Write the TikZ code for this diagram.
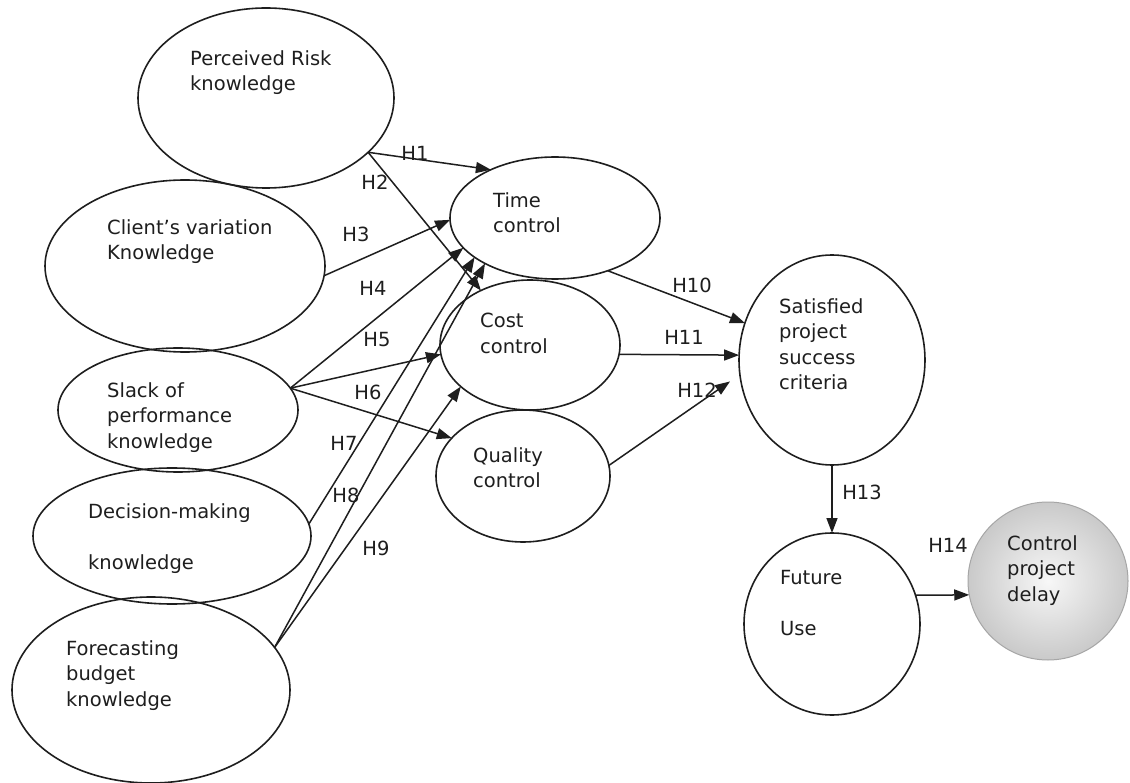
\documentclass[tikz,border=0pt]{standalone}
\usepackage{fontspec}
\setmainfont{DejaVu Sans}
\usetikzlibrary{shapes.geometric,arrows.meta}
\definecolor{ink}{HTML}{1E1E1E}
\begin{document}
\begin{tikzpicture}[x=1pt,y=-1pt,
  construct/.style={ellipse,draw=ink,line width=1.6pt,inner sep=0pt,outer sep=0pt},
  caption/.style={anchor=north west,inner sep=0pt,align=left,text=ink,
    font=\fontsize{19.5}{25.5}\selectfont},
  hyp/.style={inner sep=0pt,text=ink,font=\fontsize{19.5}{22}\selectfont},
  link/.style={draw=ink,line width=1.5pt,-{Triangle[length=15pt,width=11pt]}}]
\useasboundingbox (0,0) rectangle (1130,783);
\fill[white] (0,0) rectangle (1130,783);

% knowledge constructs (left column)
\node[construct,minimum width=256pt,minimum height=180pt] (risk) at (266,98) {};
\node[construct,minimum width=280pt,minimum height=172pt] (client) at (185,266) {};
\node[construct,minimum width=240pt,minimum height=124pt] (slack) at (178,410) {};
\node[construct,minimum width=278pt,minimum height=136pt] (decision) at (172,536) {};
\node[construct,minimum width=278pt,minimum height=186pt] (forecast) at (151,690) {};

% control constructs (middle column)
\node[construct,minimum width=210pt,minimum height=122pt] (time) at (555,218) {};
\node[construct,minimum width=180pt,minimum height=130pt] (cost) at (530,345) {};
\node[construct,minimum width=174pt,minimum height=132pt] (quality) at (523,476) {};

% outcomes
\node[construct,minimum width=186pt,minimum height=210pt] (satisfied) at (832,360) {};
\node[construct,minimum width=176pt,minimum height=182pt] (future) at (832,624) {};
\node[construct,draw=gray!70,line width=1pt,inner color=gray!6,outer color=gray!42,
      minimum width=160pt,minimum height=158pt] (delay) at (1048,581) {};

% construct captions
\node[caption] (tRisk) at (190,50) {Perceived Risk\\knowledge};
\node[caption] (tClient) at (107,219) {Client’s variation\\Knowledge};
\node[caption] (tSlack) at (107,382) {Slack of\\performance\\knowledge};
\node[caption] (tDecision) at (88,503) {Decision-making\\[25.5pt]knowledge};
\node[caption] (tForecast) at (66,640) {Forecasting\\budget\\knowledge};
\node[caption] (tTime) at (493,192) {Time\\control};
\node[caption] (tCost) at (480,313) {Cost\\control};
\node[caption] (tQuality) at (473,447) {Quality\\control};
\node[caption] (tSatisfied) at (779,298) {Satisfied\\project\\success\\criteria};
\node[caption] (tFuture) at (780,570) {Future\\[25.5pt]Use};
\node[caption] (tDelay) at (1007,535) {Control\\project\\delay};

% hypothesised paths
\draw[link] (risk.-28.6) -- (time.143);
\draw[link] (risk.-28.6) -- (cost.132);
\draw[link] (client.-4.5) -- (time.181);
\draw[link] (slack.11.4) -- (time.198);
\draw[link] (slack.11.4) -- (cost.186);
\draw[link] (slack.11.4) -- (quality.152);
\draw[link] (decision.5.4) -- (time.206);
\draw[link] (forecast.19.2) -- (time.213);
\draw[link] (forecast.19.2) -- (cost.211);
\draw[link] (time.-45) -- (satisfied.157);
\draw[link] (cost.-6.3) -- (satisfied.177);
\draw[link,shorten >=12pt] (quality.7) -- (satisfied.189);
\draw[link] (satisfied.south) -- (future.north);
\draw[link] (future.19.2) -- (delay.190);

% path labels
\node[hyp] (lH1) at (415,153) {H1};
\node[hyp] (lH2) at (375,182) {H2};
\node[hyp] (lH3) at (356,234) {H3};
\node[hyp] (lH4) at (373,288) {H4};
\node[hyp] (lH5) at (377,340) {H5};
\node[hyp] (lH6) at (368,392) {H6};
\node[hyp] (lH7) at (344,443) {H7};
\node[hyp] (lH8) at (346,495) {H8};
\node[hyp] (lH9) at (376,548) {H9};
\node[hyp] (lH10) at (692,285) {H10};
\node[hyp] (lH11) at (684,337) {H11};
\node[hyp] (lH12) at (697,390) {H12};
\node[hyp] (lH13) at (862,492) {H13};
\node[hyp] (lH14) at (948,545) {H14};
\end{tikzpicture}
\end{document}
